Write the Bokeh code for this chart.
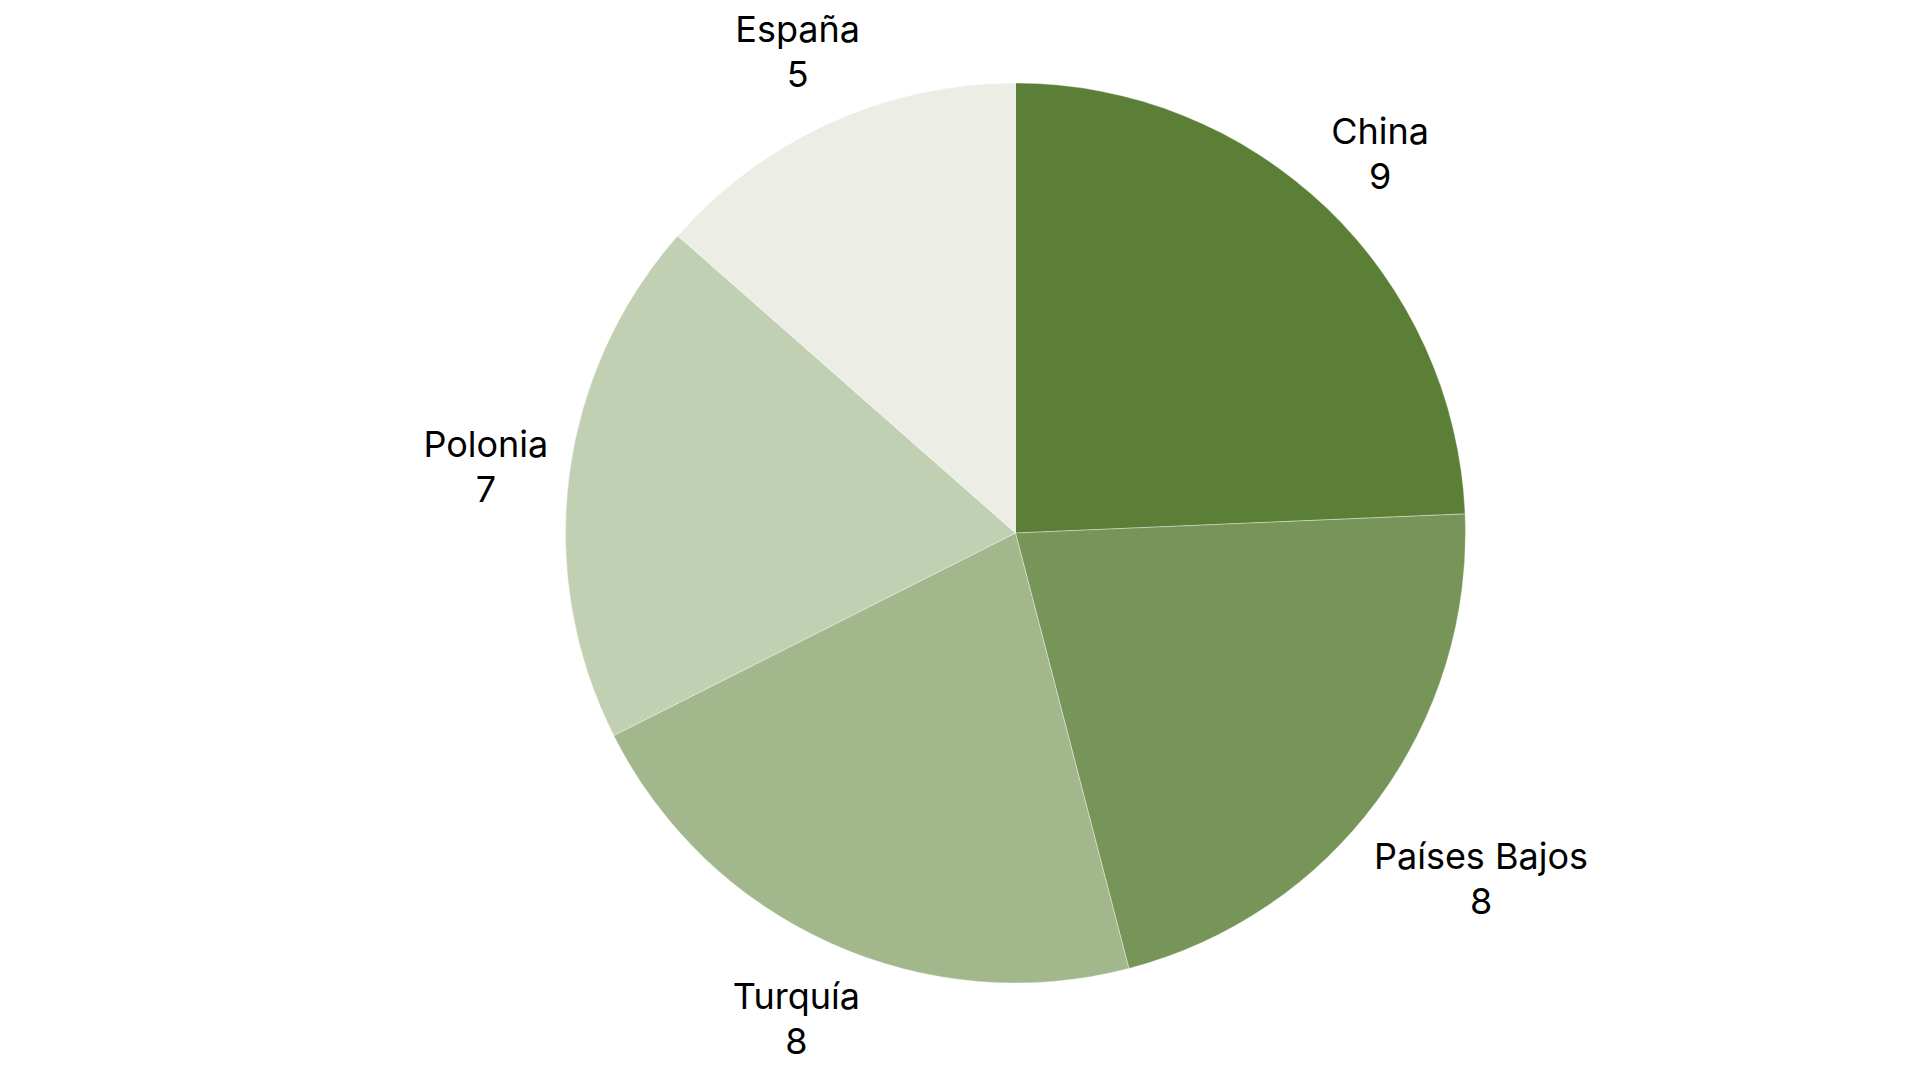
import math
from bokeh.plotting import figure
from bokeh.models import ColumnDataSource, Range1d
from bokeh.core.properties import value
from bokeh.embed import file_html
from bokeh.resources import INLINE

# ---- data ----
countries = ["China", "Países Bajos", "Turquía", "Polonia", "España"]
amounts = [9, 8, 8, 7, 5]

# ---- style / layout ----
colors = ["#5c7f37", "#779558", "#a2b78c", "#c1cfb2", "#eceee6"]
label_dist = [527, 579, 532, 534, 529]   # radial distance of label block centre (px)
W, H = 1904, 1064
CX, CY, R = 1015, 547.5, 450
FONT = "Inter"
FSIZE = "36px"

total = float(sum(amounts))
starts, ends, mids = [], [], []
cum = 0.0
for a in amounts:
    s = cum / total * 2 * math.pi
    cum += a
    e = cum / total * 2 * math.pi
    starts.append(math.pi / 2 - s)
    ends.append(math.pi / 2 - e)
    mids.append((s + e) / 2)

lx, ly_name, ly_val = [], [], []
for m, d in zip(mids, label_dist):
    x = CX + d * math.sin(m)
    y = CY + d * math.cos(m)
    lx.append(x)
    ly_name.append(y + 21.5)
    ly_val.append(y - 23.5)

src = ColumnDataSource(dict(start=starts, end=ends, color=colors,
                            name=countries, val=[str(v) for v in amounts],
                            lx=lx, lyn=ly_name, lyv=ly_val))

p = figure(width=W, height=H, output_backend="svg", toolbar_location=None,
           x_range=Range1d(0, W), y_range=Range1d(1080 - H, 1080),
           min_border=0, background_fill_color="white", border_fill_color="white")
p.axis.visible = False
p.grid.visible = False
p.outline_line_color = None

p.wedge(x=CX, y=CY, radius=R, start_angle="start", end_angle="end",
        direction="clock", fill_color="color", line_color="white",
        line_width=0.6, line_alpha=0.6, source=src)

p.text(x="lx", y="lyn", text="name", source=src, text_align="center",
       text_baseline="alphabetic", text_font=value(FONT), text_font_size=FSIZE,
       text_color="#000000")
p.text(x="lx", y="lyv", text="val", source=src, text_align="center",
       text_baseline="alphabetic", text_font=value(FONT), text_font_size=FSIZE,
       text_color="#000000")

open("out.html", "w").write(file_html(p, INLINE))
